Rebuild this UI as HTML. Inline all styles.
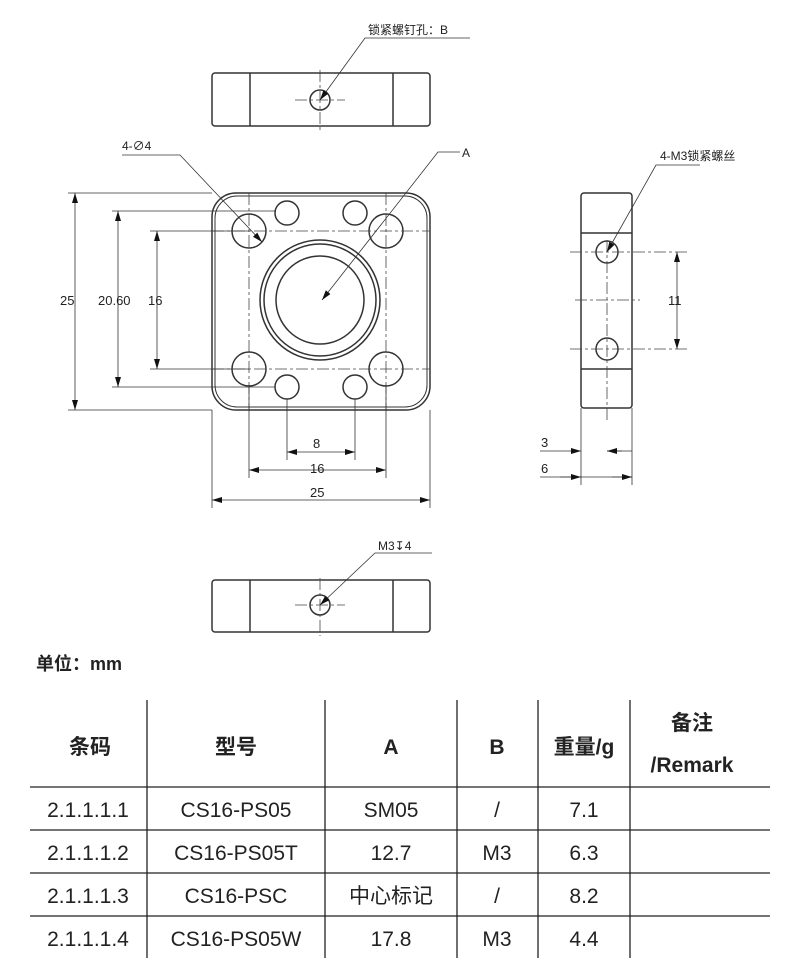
<!DOCTYPE html>
<html><head><meta charset="utf-8"><style>
body{margin:0;background:#fff;width:800px;height:973px;overflow:hidden;font-family:"Liberation Sans","Noto Sans CJK SC",sans-serif}
svg{position:absolute;left:0;top:0}
table{position:absolute;left:30px;top:700px;border-collapse:collapse;font-size:22px;color:#222}
td{text-align:center;padding:0;height:43px}
</style></head><body>
<svg width="800" height="973" viewBox="0 0 800 973">
<defs><marker id="a" viewBox="0 0 10 6" refX="10" refY="3" markerWidth="10" markerHeight="6" orient="auto-start-reverse" markerUnits="userSpaceOnUse"><path d="M0,0L10,3L0,6z" fill="#111"/></marker></defs>
<g fill="none" stroke="#333" stroke-width="1.5">
<!-- top view -->
<rect x="212" y="73" width="218" height="53" rx="3"/>
<line x1="250" y1="73" x2="250" y2="126"/><line x1="393" y1="73" x2="393" y2="126"/>
<circle cx="320" cy="100" r="10"/>
<!-- main -->
<rect x="212" y="193" width="218" height="217" rx="24"/>
<rect x="215" y="196" width="212" height="211" rx="22" stroke-width="1"/>
<circle cx="249" cy="231" r="17"/><circle cx="386" cy="231" r="17"/>
<circle cx="249" cy="369" r="17"/><circle cx="386" cy="369" r="17"/>
<circle cx="287" cy="213" r="12"/><circle cx="355" cy="213" r="12"/>
<circle cx="287" cy="387" r="12"/><circle cx="355" cy="387" r="12"/>
<circle cx="320" cy="300" r="60"/><circle cx="320" cy="300" r="56"/><circle cx="320" cy="300" r="44"/>
<!-- side -->
<rect x="581" y="193" width="51" height="215" rx="3"/>
<line x1="581" y1="233" x2="632" y2="233"/><line x1="581" y1="369" x2="632" y2="369"/>
<circle cx="607" cy="252" r="11"/><circle cx="607" cy="349" r="11"/>
<!-- bottom -->
<rect x="212" y="580" width="218" height="52" rx="3"/>
<line x1="250" y1="580" x2="250" y2="632"/><line x1="393" y1="580" x2="393" y2="632"/>
<circle cx="320" cy="605" r="10"/>
</g>
<g stroke="#444" stroke-width="0.8" fill="none" stroke-dasharray="12 3 3 3">
<line x1="320" y1="70" x2="320" y2="130"/><line x1="295" y1="100" x2="345" y2="100"/>
<line x1="320" y1="578" x2="320" y2="636"/><line x1="295" y1="605" x2="345" y2="605"/>
<line x1="212" y1="231" x2="430" y2="231"/><line x1="212" y1="369" x2="430" y2="369"/>
<line x1="249" y1="193" x2="249" y2="410"/><line x1="386" y1="193" x2="386" y2="410"/>
<line x1="607" y1="240" x2="607" y2="420"/>
<line x1="570" y1="252" x2="690" y2="252"/><line x1="570" y1="349" x2="690" y2="349"/><line x1="575" y1="300" x2="640" y2="300"/>
</g>
<g stroke="#333" stroke-width="0.8" fill="none">
<line x1="68" y1="193" x2="212" y2="193"/><line x1="68" y1="410" x2="212" y2="410"/>
<line x1="112" y1="211" x2="275" y2="211"/><line x1="112" y1="387" x2="275" y2="387"/>
<line x1="150" y1="231" x2="249" y2="231"/><line x1="150" y1="369" x2="249" y2="369"/>
<line x1="75" y1="193" x2="75" y2="410" marker-start="url(#a)" marker-end="url(#a)"/>
<line x1="118" y1="211" x2="118" y2="387" marker-start="url(#a)" marker-end="url(#a)"/>
<line x1="157" y1="231" x2="157" y2="369" marker-start="url(#a)" marker-end="url(#a)"/>
<line x1="212" y1="410" x2="212" y2="508"/><line x1="430" y1="410" x2="430" y2="508"/>
<line x1="249" y1="385" x2="249" y2="478"/><line x1="386" y1="385" x2="386" y2="478"/>
<line x1="287" y1="399" x2="287" y2="460"/><line x1="355" y1="399" x2="355" y2="460"/>
<line x1="287" y1="452" x2="355" y2="452" marker-start="url(#a)" marker-end="url(#a)"/>
<line x1="249" y1="470" x2="386" y2="470" marker-start="url(#a)" marker-end="url(#a)"/>
<line x1="212" y1="500" x2="430" y2="500" marker-start="url(#a)" marker-end="url(#a)"/>
<line x1="677" y1="252" x2="677" y2="349" marker-start="url(#a)" marker-end="url(#a)"/>
<line x1="581" y1="408" x2="581" y2="485"/><line x1="632" y1="408" x2="632" y2="485"/>
<line x1="540" y1="451" x2="581" y2="451" marker-end="url(#a)"/><line x1="607" y1="451" x2="632" y2="451"/><line x1="622" y1="451" x2="607" y2="451" marker-end="url(#a)"/>
<line x1="540" y1="477" x2="632" y2="477"/><line x1="560" y1="477" x2="581" y2="477" marker-end="url(#a)"/><line x1="612" y1="477" x2="632" y2="477" marker-end="url(#a)"/>
<!-- leaders -->
<polyline points="470,38 365,38 320,100" marker-end="url(#a)"/>
<polyline points="122,155 180,155 262,242" marker-end="url(#a)"/>
<polyline points="460,152 438,152 322,300" marker-end="url(#a)"/>
<polyline points="700,165 656,165 607,252" marker-end="url(#a)"/>
<polyline points="432,553 375,553 320,605" marker-end="url(#a)"/>
</g>
<g font-size="12" fill="#222" font-family="Liberation Sans,Noto Sans CJK SC,sans-serif">
<text x="368" y="34">锁紧螺钉孔：B</text>
<text x="122" y="150">4-∅4</text>
<text x="462" y="157">A</text>
<text x="660" y="160">4-M3锁紧螺丝</text>
<text x="378" y="550">M3↧4</text>
<text x="60" y="305" font-size="13">25</text>
<text x="98" y="305" font-size="13">20.60</text>
<text x="148" y="305" font-size="13">16</text>
<text x="313" y="448" font-size="13">8</text>
<text x="310" y="473" font-size="13">16</text>
<text x="310" y="497" font-size="13">25</text>
<text x="668" y="305" font-size="13">11</text>
<text x="541" y="447" font-size="13">3</text>
<text x="541" y="473" font-size="13">6</text>
<text x="36" y="670" font-size="18" font-weight="bold">单位：mm</text>
</g>
<g stroke="#222" stroke-width="1.3">
<line x1="147" y1="700" x2="147" y2="958"/><line x1="325" y1="700" x2="325" y2="958"/>
<line x1="457" y1="700" x2="457" y2="958"/><line x1="538" y1="700" x2="538" y2="958"/>
<line x1="630" y1="700" x2="630" y2="958"/>
<line x1="30" y1="787" x2="770" y2="787"/><line x1="30" y1="830" x2="770" y2="830"/>
<line x1="30" y1="873" x2="770" y2="873"/><line x1="30" y1="916" x2="770" y2="916"/>
</g>
<g font-size="21" fill="#222" text-anchor="middle">
<g font-weight="bold"><text x="90" y="754">条码</text><text x="236" y="754">型号</text><text x="391" y="754">A</text><text x="497" y="754">B</text><text x="584" y="754">重量/g</text><text x="692" y="730">备注</text><text x="692" y="772">/Remark</text></g>
<text x="88" y="817">2.1.1.1.1</text><text x="236" y="817">CS16-PS05</text><text x="391" y="817">SM05</text><text x="497" y="817">/</text><text x="584" y="817">7.1</text>
<text x="88" y="860">2.1.1.1.2</text><text x="236" y="860">CS16-PS05T</text><text x="391" y="860">12.7</text><text x="497" y="860">M3</text><text x="584" y="860">6.3</text>
<text x="88" y="903">2.1.1.1.3</text><text x="236" y="903">CS16-PSC</text><text x="391" y="903">中心标记</text><text x="497" y="903">/</text><text x="584" y="903">8.2</text>
<text x="88" y="946">2.1.1.1.4</text><text x="236" y="946">CS16-PS05W</text><text x="391" y="946">17.8</text><text x="497" y="946">M3</text><text x="584" y="946">4.4</text>
</g>
</svg>
</body></html>
